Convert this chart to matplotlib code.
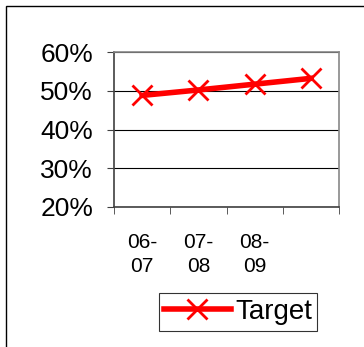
import matplotlib.pyplot as plt
from matplotlib.patches import Rectangle

plt.rcParams['font.family'] = ['Liberation Sans', 'DejaVu Sans']

# chart data
periods = ["06-\n07", "07-\n08", "08-\n09", ""]
target = [48.8, 50.2, 51.7, 53.2]
y_ticks = [20, 30, 40, 50, 60]
y_labels = ["20%", "30%", "40%", "50%", "60%"]

W, H = 364, 347
fig = plt.figure(figsize=(W / 100, H / 100), dpi=100)

# outer chart frame
fig.patches.append(Rectangle((6 / W, -0.1), 1.1, (H - 6) / H + 0.1,
                             transform=fig.transFigure, fill=False,
                             edgecolor='black', linewidth=1.0))

ax = fig.add_axes([114 / W, 1 - 207 / H, 225 / W, 155 / H])
x = list(range(len(target)))
ax.plot(x, target, color='#ff0000', linewidth=4, marker='x',
        markersize=14, markeredgewidth=2, label='Target', zorder=3)

ax.set_xlim(-0.5, len(target) - 0.5)
ax.set_ylim(20, 60)
ax.set_yticks(y_ticks)
ax.set_yticklabels(y_labels, fontsize=19)
ax.set_xticks(x)
ax.set_xticklabels(periods, fontsize=15, linespacing=1.3)
ax.tick_params(axis='x', length=0, pad=19)
ax.set_xticks([i - 0.5 for i in range(len(target) + 1)], minor=True)
ax.tick_params(axis='x', which='minor', length=5, direction='out',
               color='#404040')
ax.tick_params(axis='y', length=5, direction='out', color='#404040', pad=10)

ax.grid(axis='y', color='black', linewidth=0.8)
ax.set_axisbelow(True)
for side in ['top', 'right']:
    ax.spines[side].set_color('#888888')
    ax.spines[side].set_linewidth(1.2)
for side in ['left', 'bottom']:
    ax.spines[side].set_color('#404040')
    ax.spines[side].set_linewidth(1.2)

leg = fig.legend(loc='center', bbox_to_anchor=(238 / W, 1 - 312 / H),
                 fontsize=20, frameon=True, fancybox=False,
                 handlelength=2.4, handletextpad=0.15, borderpad=0.2,
                 borderaxespad=0)
leg.get_frame().set_edgecolor('black')
leg.get_frame().set_linewidth(0.8)

fig.savefig('out.png', dpi=100)
